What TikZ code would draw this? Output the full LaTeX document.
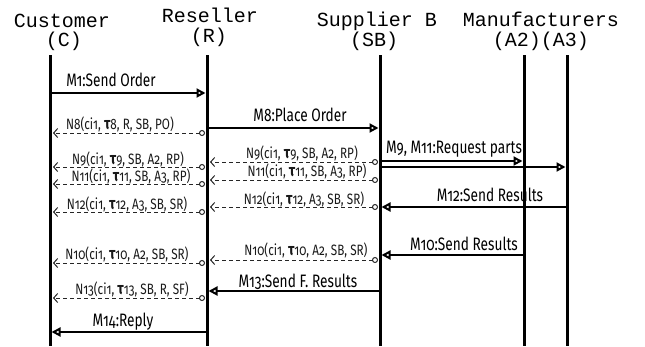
\documentclass[tikz,border=0pt]{standalone}
\usepackage{fontspec}
\setmonofont{Liberation Mono}
\newfontfamily\labfont[FakeStretch=0.76,Numbers=OldStyle]{Fira Sans}
\newfontfamily\nfont[FakeStretch=0.78,Numbers=OldStyle]{Fira Sans}
\usetikzlibrary{arrows.meta}
\newcommand{\tu}{{\fontsize{17}{17}\selectfont\bfseries τ}}
\begin{document}
\begin{tikzpicture}[x=1pt,y=-1pt,
 life/.style={line width=3pt},
 msg/.style={line width=2pt, -{Triangle[open,length=9pt,width=9pt]}, shorten >=1.5pt},
 note/.style={line width=1pt, draw=black!85, dash pattern=on 4pt off 3pt,
   {Circle[open,length=6pt,line width=1pt]}-{Straight Barb[length=4pt,width=9pt,line width=1pt]},
   shorten <=2pt, shorten >=3pt},
 hdr/.style={font=\ttfamily\fontsize{20}{24}\selectfont, inner sep=0pt, anchor=base},
 mlab/.style={font=\labfont\fontsize{18}{20}\selectfont, inner sep=0pt, anchor=base},
 nlab/.style={font=\nfont\fontsize{15}{17}\selectfont, inner sep=0pt, anchor=base, text=black!90}]
\useasboundingbox (0,0) rectangle (645,346);
% headers
\node[hdr] (hC) at (62,27) {Customer};
\node[hdr] (hC2) at (64,46) {(C)};
\node[hdr] (hR) at (210,22) {Reseller};
\node[hdr] (hR2) at (209,42) {(R)};
\node[hdr] (hSB) at (377,26) {Supplier B};
\node[hdr] (hSB2) at (374,46) {(SB)};
\node[hdr] (hM) at (541,26) {Manufacturers};
\node[hdr] (hM2) at (541,46) {(A2)(A3)};
% lifelines
\coordinate (C) at (50,55);  \coordinate (Cb) at (50,346);
\coordinate (R) at (207,55); \coordinate (Rb) at (207,346);
\coordinate (SB) at (380,55); \coordinate (SBb) at (380,346);
\coordinate (A2) at (524,55); \coordinate (A2b) at (524,346);
\coordinate (A3) at (567,55); \coordinate (A3b) at (567,346);
\foreach \a/\b in {C/Cb,R/Rb,SB/SBb,A2/A2b,A3/A3b} \draw[life] (\a) -- (\b);
% messages
\draw[msg] (C |- 0,93) -- (R |- 0,93);
\node[mlab] (lM1) at (111,86) {M1:Send Order};
\draw[msg] (R |- 0,128) -- (SB |- 0,128);
\node[mlab] (lM8) at (300,121) {M8:Place Order};
\draw[msg] (SB |- 0,161) -- (A2 |- 0,161);
\draw[msg] (SB |- 0,167) -- (A3 |- 0,167);
\node[mlab] (lM9) at (454,153) {M9, M11:Request parts};
\draw[msg] (A3 |- 0,207) -- (SB |- 0,207);
\node[mlab] (lM12) at (490,201) {M12:Send Results};
\draw[msg] (A2 |- 0,255) -- (SB |- 0,255);
\node[mlab] (lM10) at (464,250) {M10:Send Results};
\draw[msg] (SB |- 0,291) -- (R |- 0,291);
\node[mlab] (lM13) at (298,287) {M13:Send F. Results};
\draw[msg] (R |- 0,332) -- (C |- 0,332);
\node[mlab] (lM14) at (123,326) {M14:Reply};
% notifications
\draw[note] (R |- 0,133) -- (C |- 0,133);
\node[nlab] (lN8) at (120,129) {N8(ci1, \tu8, R, SB, PO)};
\draw[note] (SB |- 0,162) -- (R |- 0,162);
\node[nlab] (lN9r) at (302,158) {N9(ci1, \tu9, SB, A2, RP)};
\draw[note] (SB |- 0,180) -- (R |- 0,180);
\node[nlab] (lN11r) at (307,176) {N11(ci1, \tu11, SB, A3, RP)};
\draw[note] (SB |- 0,207) -- (R |- 0,207);
\node[nlab] (lN12r) at (304,204) {N12(ci1, \tu12, A3, SB, SR)};
\draw[note] (R |- 0,167) -- (C |- 0,167);
\node[nlab] (lN9c) at (128,164) {N9(ci1, \tu9, SB, A2, RP)};
\draw[note] (R |- 0,184) -- (C |- 0,184);
\node[nlab] (lN11c) at (131,181) {N11(ci1, \tu11, SB, A3, RP)};
\draw[note] (R |- 0,212) -- (C |- 0,212);
\node[nlab] (lN12c) at (127,209) {N12(ci1, \tu12, A3, SB, SR)};
\draw[note] (SB |- 0,260) -- (R |- 0,260);
\node[nlab] (lN10r) at (306,255) {N10(ci1, \tu10, A2, SB, SR)};
\draw[note] (R |- 0,263) -- (C |- 0,263);
\node[nlab] (lN10c) at (127,259) {N10(ci1, \tu10, A2, SB, SR)};
\draw[note] (R |- 0,298) -- (C |- 0,298);
\node[nlab] (lN13) at (132,294) {N13(ci1, \tu13, SB, R, SF)};
\end{tikzpicture}
\end{document}
